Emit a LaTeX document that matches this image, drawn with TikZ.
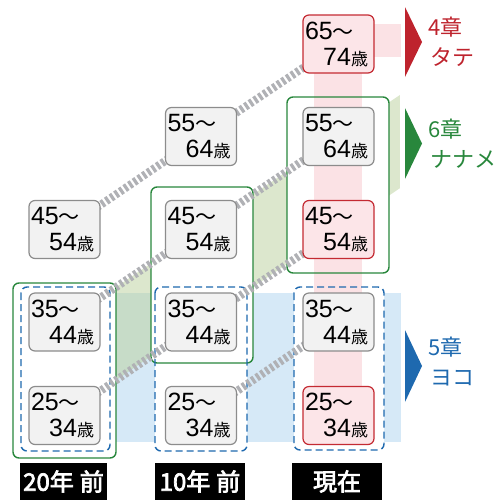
\documentclass[tikz,border=0pt]{standalone}
\usepackage{fontspec}
\setmainfont{Liberation Sans}
\newfontfamily\jp{Noto Sans CJK JP}
\newfontfamily\jpb[FakeBold=3]{Noto Sans CJK JP}
\usetikzlibrary{calc}
\definecolor{redc}{RGB}{190,35,45}
\definecolor{greenc}{RGB}{40,135,60}
\definecolor{bluec}{RGB}{30,105,175}
\definecolor{pinkband}{RGB}{251,226,229}
\definecolor{blueband}{RGB}{214,233,247}
\definecolor{greenband}{RGB}{185,208,155}
\definecolor{nodegray}{RGB}{140,140,140}
\definecolor{nodefill}{RGB}{242,242,242}
\definecolor{rednode}{RGB}{196,42,50}
\definecolor{rednodefill}{RGB}{252,229,232}
\definecolor{dashgray}{RGB}{176,177,181}
\pgfdeclarelayer{bands}
\pgfdeclarelayer{boxfill}
\pgfdeclarelayer{pinkl}
\pgfdeclarelayer{frames}
\pgfdeclarelayer{lines}
\pgfsetlayers{bands,boxfill,pinkl,frames,lines,main}
\newcommand\agetxt[2]{\parbox[c][58pt][t]{71pt}{\fontsize{25}{26}\selectfont\baselineskip=26pt\lineskiplimit=-20pt\parindent=0pt\hspace*{2pt}\rule{0pt}{24pt}#1{\jp\fontsize{21}{21}\selectfont ～}\\\hspace*{\fill}#2{\jp\fontsize{17}{17}\selectfont 歳}\hspace*{6pt}}}
\begin{document}
\begin{tikzpicture}[x=1pt,y=-1pt,
  age/.style={draw=nodegray, fill=nodefill, line width=1.2pt, rounded corners=6pt, inner sep=0pt, outer sep=0pt},
  agered/.style={age, draw=rednode, fill=rednodefill},
  cohort/.style={draw=dashgray, line width=8pt, dash pattern=on 3.2pt off 2.4pt},
  gframe/.style={draw=greenc, line width=1.4pt, rounded corners=6pt},
  bframe/.style={draw=bluec, line width=1.4pt, dash pattern=on 7pt off 4pt, rounded corners=6pt},
  wfill/.style={fill=white, rounded corners=6pt},
  chap/.style={font=\jp\fontsize{22}{22}\selectfont, anchor=base west, inner sep=0pt},
  yearlab/.style={fill=black, text=white, minimum height=37pt, inner sep=0pt, font=\jpb\fontsize{24}{24}\selectfont}
]
\useasboundingbox (0,0) rectangle (500,499);

% age nodes
\node[age] (a1r45) at (64.5,229.5) {\agetxt{45}{54}};
\node[age] (a1r35) at (64.5,322) {\agetxt{35}{44}};
\node[age] (a1r25) at (64.5,415.5) {\agetxt{25}{34}};
\node[age] (a2r55) at (201,136.5) {\agetxt{55}{64}};
\node[age] (a2r45) at (201,229.5) {\agetxt{45}{54}};
\node[age] (a2r35) at (201,322) {\agetxt{35}{44}};
\node[age] (a2r25) at (201,415.5) {\agetxt{25}{34}};
\node[agered] (a3r65) at (338.5,44) {\agetxt{65}{74}};
\node[age] (a3r55) at (338.5,136.5) {\agetxt{55}{64}};
\node[agered] (a3r45) at (338.5,229.5) {\agetxt{45}{54}};
\node[age] (a3r35) at (338.5,322) {\agetxt{35}{44}};
\node[agered] (a3r25) at (338.5,415.5) {\agetxt{25}{34}};

% bands
\begin{pgfonlayer}{bands}
\fill[blueband] (64.5,293) rectangle (401,442);
\fill[greenband, opacity=0.5] (a1r35.center) -- (a2r45.center) -- (a3r55.center) -- ($(a2r45)!1.447!(a3r55)$) -- ($(a2r35)!1.447!(a3r45)$) -- (a3r45.center) -- (a2r35.center) -- (a1r25.center) -- cycle;
\end{pgfonlayer}

% frame fills
\begin{pgfonlayer}{boxfill}
\fill[wfill] (13,283) rectangle (116,458);
\fill[wfill] (151,187) rectangle (253,363);
\fill[wfill] (155,287) rectangle (247,451);
\fill[wfill] (287,97) rectangle (389,273);
\fill[wfill] (294,287) rectangle (384,450);
\end{pgfonlayer}

% pink band
\begin{pgfonlayer}{pinkl}
\fill[pinkband] (314,24) rectangle (362,442);
\fill[pinkband] (314,24) rectangle (401,57);
\end{pgfonlayer}

% frames
\begin{pgfonlayer}{frames}
\draw[gframe] (13,283) rectangle (116,458);
\draw[bframe] (21,287) rectangle (110,451);
\draw[gframe] (151,187) rectangle (253,363);
\draw[bframe] (155,287) rectangle (247,451);
\draw[gframe] (287,97) rectangle (389,273);
\draw[bframe] (294,287) rectangle (384,450);
\end{pgfonlayer}

% cohort lines
\begin{pgfonlayer}{lines}
\draw[cohort] (a1r45.center) -- (a2r55.center) -- (a3r65.center);
\draw[cohort] (a1r35.center) -- (a2r45.center) -- (a3r55.center);
\draw[cohort] (a1r25.center) -- (a2r35.center) -- (a3r45.center);
\draw[cohort] (a2r25.center) -- (a3r35.center);
\end{pgfonlayer}

% arrows
\fill[redc] (405,7) -- (422,42) -- (405,77) -- cycle;
\fill[greenc] (405,108) -- (422,143.5) -- (405,179) -- cycle;
\fill[bluec] (405,330) -- (422,366) -- (405,402) -- cycle;

% chapter labels
\node[chap, text=redc] (ch4a) at (428,35) {4章};
\node[chap, text=redc] (ch4b) at (430,65) {タテ};
\node[chap, text=greenc] (ch6a) at (428,137) {6章};
\node[chap, text=greenc] (ch6b) at (430,167) {ナナメ};
\node[chap, text=bluec] (ch5a) at (428,355) {5章};
\node[chap, text=bluec] (ch5b) at (430,385) {ヨコ};

% year labels
\node[yearlab, minimum width=87pt] (y20) at (63.5,481.5) {20年\hspace{6pt}前};
\node[yearlab, minimum width=90pt] (y10) at (200,481.5) {10年\hspace{6pt}前};
\node[yearlab, minimum width=90pt] (ynow) at (337,481.5) {現在};
\end{tikzpicture}
\end{document}
